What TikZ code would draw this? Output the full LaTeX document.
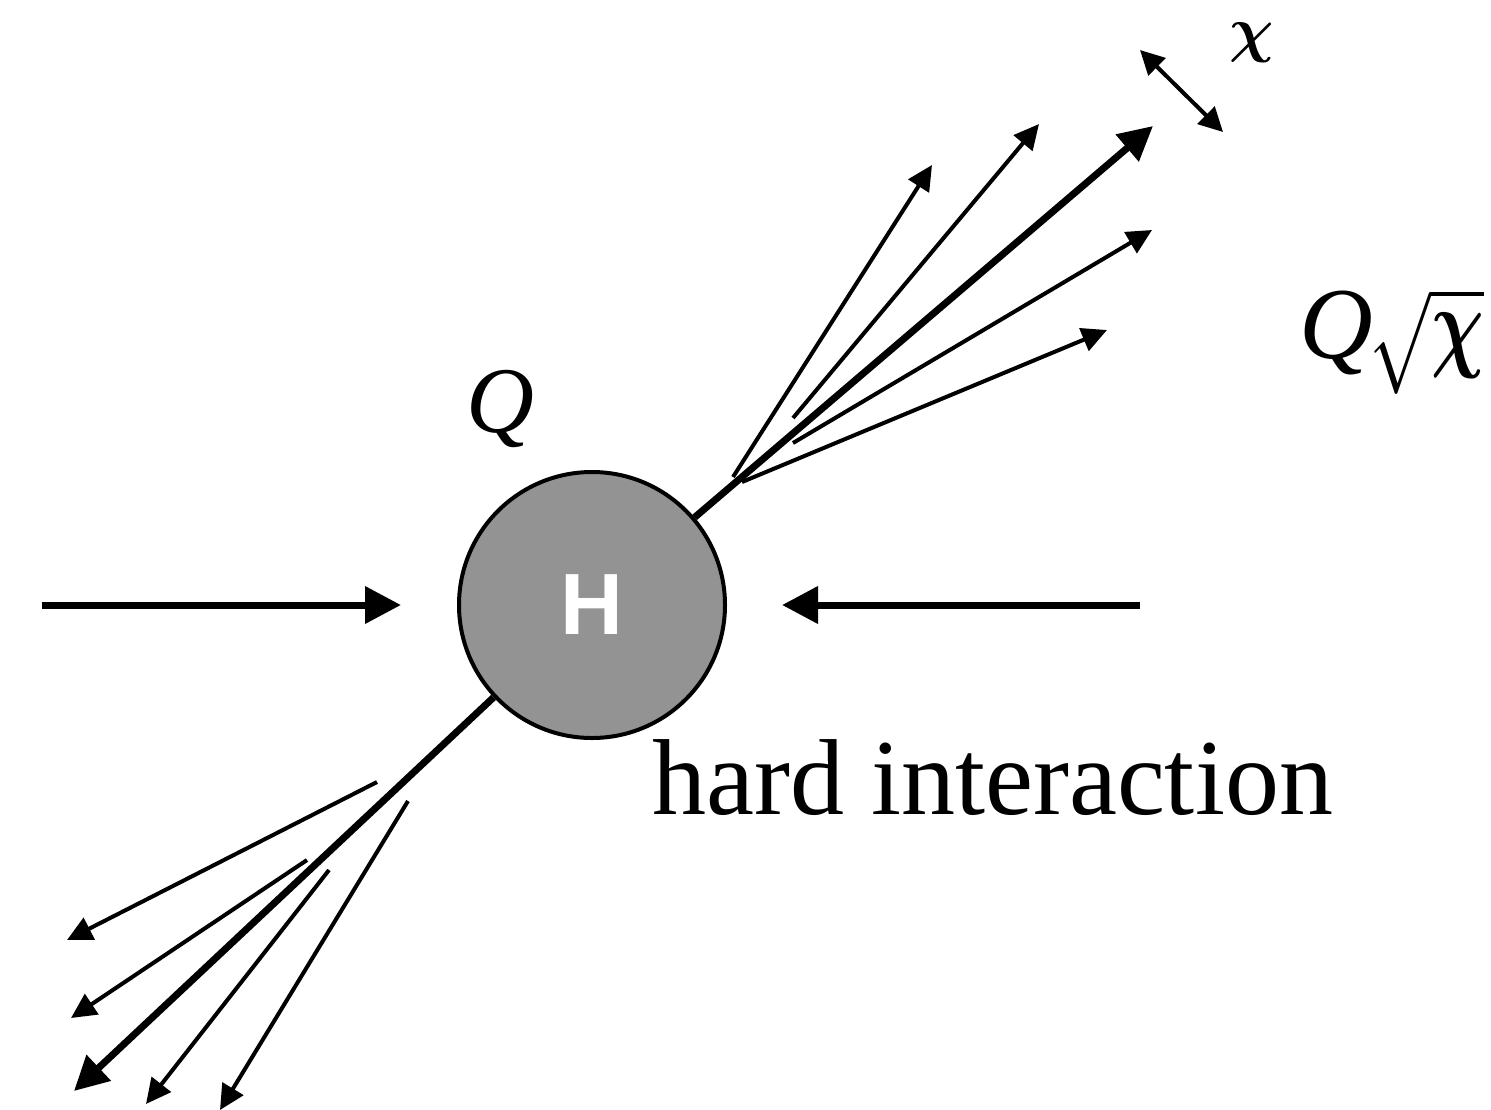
\RequirePackage{fix-cm}
\documentclass[tikz,border=0pt]{standalone}
\usepackage{graphicx}
\usepackage{bm}
\usepackage{fontspec}
\setmainfont{Liberation Serif}
\newfontfamily\hsans{Liberation Sans}
\usetikzlibrary{arrows.meta}
\definecolor{hgray}{RGB}{147,147,147}
\begin{document}
\begin{tikzpicture}[x=1pt,y=-1pt,
  thinjet/.style={line width=4pt,-{Triangle[length=25pt,width=24pt]}},
  thickjet/.style={line width=7pt,-{Triangle[length=34pt,width=34pt]}},
  beam/.style={line width=7pt,-{Triangle[length=36pt,width=36pt]}},
  sizearrow/.style={line width=4pt,{Triangle[length=24pt,width=24pt]}-{Triangle[length=24pt,width=24pt]}},
  lbl/.style={inner sep=0pt}]
\useasboundingbox (0,0) rectangle (1491,1109);
% hard vertex
\node[circle, draw, line width=4pt, fill=hgray, minimum size=266pt, inner sep=0pt,
      font=\hsans\bfseries\fontsize{87}{90}\selectfont, text=white] (H) at (592,605) {H};
% incoming beams
\coordinate (inL) at (42,605);
\coordinate (inR) at (1140,605);
\draw[beam, shorten >=56pt] (inL) -- (H.west);
\draw[beam, shorten >=55pt] (inR) -- (H.east);
% upper jet
\coordinate (uT) at (1153,126);
\draw[thickjet] (H) -- (uT);
\coordinate (u1s) at (733,477);  \coordinate (u1e) at (932,165);
\coordinate (u2s) at (793,418);  \coordinate (u2e) at (1039,124);
\coordinate (u4s) at (793,443);  \coordinate (u4e) at (1152,230);
\coordinate (u5s) at (742,482);  \coordinate (u5e) at (1107,330);
\draw[thinjet] (u1s) -- (u1e);
\draw[thinjet] (u2s) -- (u2e);
\draw[thinjet] (u4s) -- (u4e);
\draw[thinjet] (u5s) -- (u5e);
% lower jet
\coordinate (lT) at (74,1091);
\draw[thickjet] (H) -- (lT);
\coordinate (l1s) at (377,782);  \coordinate (l1e) at (67,940);
\coordinate (l2s) at (307,860);  \coordinate (l2e) at (71,1018);
\coordinate (l3s) at (329,870);  \coordinate (l3e) at (146,1104);
\coordinate (l4s) at (408,801);  \coordinate (l4e) at (220,1110);
\draw[thinjet] (l1s) -- (l1e);
\draw[thinjet] (l2s) -- (l2e);
\draw[thinjet] (l3s) -- (l3e);
\draw[thinjet] (l4s) -- (l4e);
% jet width indicator
\coordinate (c1) at (1140,50);
\coordinate (c2) at (1223,132);
\draw[sizearrow] (c1) -- (c2);
% labels
\node[lbl, font=\fontsize{62}{70}\selectfont] (chi) at (1252,43) {$\bm{\chi}$};
\node[lbl, anchor=base west, font=\fontsize{94}{100}\selectfont\itshape] (q) at (466,432) {Q};
\node[lbl, anchor=base west, font=\fontsize{102}{120}\selectfont] (qs) at (1299,358) {{\itshape Q}\kern-3pt\scalebox{0.72}[1]{$\sqrt{\bm{\chi}}$}};
\node[lbl, anchor=base west, font=\fontsize{108}{120}\selectfont] (hi) at (652,814) {hard interaction};
\end{tikzpicture}
\end{document}
